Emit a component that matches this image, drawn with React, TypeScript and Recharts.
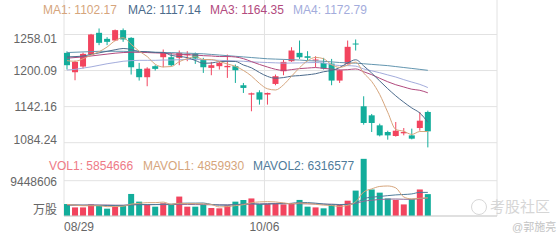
import React from "react";
import { ComposedChart, Bar, Line, XAxis, YAxis, CartesianGrid } from "recharts";

// trading days (index 0 .. 45)
const dates = [
  "08/29", "08/30", "08/31", "09/03", "09/04", "09/05", "09/06", "09/07", "09/10", "09/11",
  "09/12", "09/13", "09/14", "09/17", "09/18", "09/19", "09/20", "09/21", "09/25", "09/26",
  "09/27", "09/28", "10/03", "10/04", "10/05", "10/06", "10/09", "10/10", "10/11", "10/12",
  "10/13", "10/16", "10/17", "10/18", "10/19", "10/20", "10/23", "10/24", "10/25", "10/26",
  "10/27", "10/30", "10/31", "11/01", "11/02", "11/03",
];

const open = [
  1228.5, 1197.4, 1206.5, 1225.8, 1260.7, 1251.0, 1248.4, 1265.0, 1252.6, 1202.8,
  1189.4, 1207.1, 1221.5, 1221.5, 1220.5, 1224.7, 1226.9, 1217.8, 1204.4, 1207.1,
  1205.4, 1207.1, 1176.5, 1161.5, 1165.2, 1161.5, 1178.6, 1199.0, 1215.1, 1228.5,
  1223.1, 1216.2, 1212.4, 1211.3, 1184.0, 1210.8, 1243.5, 1142.7, 1128.2, 1112.1,
  1101.4, 1095.0, 1099.3, 1096.0, 1107.8, 1133.6,
];
const high = [
  1231.0, 1216.0, 1229.0, 1259.0, 1267.7, 1253.7, 1266.0, 1267.7, 1253.7, 1212.4,
  1205.4, 1208.7, 1233.9, 1228.5, 1232.3, 1231.2, 1229.0, 1220.5, 1214.0, 1214.0,
  1225.8, 1209.7, 1180.2, 1164.7, 1168.4, 1164.7, 1193.7, 1217.8, 1237.6, 1248.3,
  1231.2, 1223.1, 1220.5, 1218.8, 1201.7, 1248.3, 1250.0, 1158.8, 1130.4, 1114.8,
  1103.5, 1117.5, 1107.8, 1106.8, 1133.6, 1135.7,
];
const low = [
  1201.7, 1184.5, 1203.3, 1224.7, 1240.9, 1240.9, 1247.3, 1246.2, 1193.7, 1184.0,
  1174.9, 1200.1, 1205.4, 1207.1, 1208.7, 1215.1, 1210.8, 1196.3, 1192.6, 1201.7,
  1188.3, 1180.2, 1164.1, 1134.7, 1145.4, 1145.4, 1176.5, 1192.6, 1214.0, 1218.8,
  1215.1, 1205.4, 1201.7, 1176.5, 1180.2, 1209.7, 1232.3, 1113.2, 1101.4, 1094.4,
  1089.1, 1094.0, 1096.0, 1089.6, 1103.5, 1076.7,
];
const close = [
  1208.7, 1214.0, 1226.9, 1258.0, 1244.6, 1246.2, 1265.0, 1250.0, 1205.4, 1189.4,
  1203.3, 1202.8, 1228.5, 1208.7, 1228.5, 1226.9, 1219.4, 1205.4, 1208.7, 1212.4,
  1207.6, 1200.6, 1172.2, 1163.6, 1153.4, 1164.1, 1191.0, 1214.0, 1232.3, 1221.5,
  1220.5, 1217.8, 1203.3, 1184.0, 1200.6, 1238.2, 1241.9, 1115.9, 1115.9, 1096.0,
  1096.0, 1103.5, 1101.4, 1090.7, 1119.6, 1102.5,
];

// moving averages
const ma1 = [
  1216.0, 1215.0, 1219.0, 1225.0, 1230.4, 1237.9, 1248.1, 1252.8, 1242.2, 1231.2,
  1222.6, 1210.2, 1205.9, 1206.5, 1214.4, 1219.1, 1222.4, 1217.8, 1217.8, 1214.6,
  1210.7, 1206.9, 1200.3, 1191.3, 1179.5, 1170.8, 1168.9, 1177.2, 1191.0, 1204.6,
  1215.9, 1221.2, 1219.1, 1209.4, 1205.2, 1208.8, 1213.6, 1196.1, 1182.5, 1161.6,
  1133.1, 1105.5, 1102.6, 1097.5, 1102.2, 1102.17,
];
const ma2 = [
  1222.0, 1222.5, 1223.5, 1226.0, 1228.5, 1231.0, 1233.5, 1235.5, 1234.0, 1230.8,
  1230.3, 1229.2, 1229.3, 1224.4, 1222.8, 1220.9, 1216.3, 1211.8, 1212.2, 1214.5,
  1214.9, 1214.7, 1209.0, 1204.5, 1197.0, 1190.7, 1187.9, 1188.8, 1191.1, 1192.0,
  1193.3, 1195.0, 1198.2, 1200.2, 1204.9, 1212.3, 1217.4, 1207.6, 1196.0, 1183.4,
  1171.0, 1159.5, 1149.3, 1140.0, 1131.9, 1117.14,
];
const ma3 = [
  1220.0, 1221.0, 1222.0, 1223.5, 1225.0, 1226.5, 1228.0, 1229.0, 1229.5, 1229.5,
  1229.0, 1228.5, 1228.0, 1227.0, 1226.0, 1225.5, 1225.0, 1224.0, 1223.5, 1222.6,
  1222.6, 1221.9, 1219.2, 1214.5, 1209.9, 1205.8, 1202.1, 1200.3, 1201.6, 1203.2,
  1204.1, 1204.9, 1203.6, 1202.4, 1201.0, 1201.5, 1202.7, 1198.2, 1193.5, 1187.7,
  1182.1, 1177.3, 1173.7, 1170.1, 1168.4, 1164.35,
];
const ma4 = [
  1201.0, 1202.0, 1204.0, 1206.0, 1208.5, 1211.0, 1213.0, 1215.0, 1216.0, 1216.5,
  1216.5, 1216.5, 1217.0, 1217.0, 1217.5, 1218.0, 1218.0, 1217.5, 1217.0, 1216.5,
  1216.0, 1215.5, 1215.0, 1214.0, 1213.5, 1213.0, 1212.5, 1212.0, 1212.2, 1212.4,
  1212.8, 1213.0, 1212.2, 1209.7, 1208.2, 1208.0, 1207.2, 1202.7, 1199.7, 1196.6,
  1193.1, 1189.7, 1185.5, 1181.6, 1177.9, 1172.79,
];
const ma5 = [
  1229.0, 1229.5, 1230.0, 1230.5, 1231.0, 1231.0, 1231.0, 1231.0, 1230.5, 1230.0,
  1230.0, 1229.5, 1229.0, 1229.0, 1228.5, 1228.0, 1227.5, 1227.0, 1226.0, 1225.0,
  1224.0, 1223.0, 1222.0, 1221.0, 1220.0, 1219.0, 1218.5, 1218.0, 1217.5, 1217.0,
  1216.0, 1215.5, 1215.0, 1214.0, 1213.0, 1212.5, 1212.0, 1211.0, 1210.0, 1209.0,
  1208.0, 1206.5, 1205.0, 1203.5, 1202.0, 1200.5,
];

// volume, millions of shares
const vol = [
  3.2, 2.3, 2.3, 3.1, 2.85, 1.96, 2.5, 2.68, 5.9, 3.84,
  2.95, 2.5, 3.4, 3.0, 5.2, 2.5, 2.5, 3.0, 2.14, 2.05,
  2.85, 3.84, 4.28, 4.7, 3.2, 3.2, 3.4, 3.1, 3.4, 4.3,
  2.5, 2.3, 2.05, 2.95, 2.95, 4.1, 6.8, 15.3, 7.1, 6.25,
  4.7, 4.3, 3.1, 4.5, 7.1, 5.854666,
];
const mavol1 = [
  3.1, 2.9, 2.75, 2.75, 2.75, 2.502, 2.542, 2.618, 3.178, 3.376,
  3.574, 3.574, 3.718, 3.138, 3.41, 3.32, 3.32, 3.24, 3.068, 2.438,
  2.508, 2.776, 3.032, 3.544, 3.774, 3.844, 3.756, 3.52, 3.26, 3.48,
  3.34, 3.12, 2.91, 2.82, 2.55, 2.87, 3.77, 6.42, 7.25, 7.91,
  8.03, 7.53, 5.09, 4.57, 4.74, 4.85993,
];
const mavol2 = [
  3.0, 2.95, 2.9, 2.9, 2.85, 2.8, 2.8, 2.8, 3.0, 3.063,
  3.038, 3.058, 3.168, 3.158, 3.393, 3.447, 3.447, 3.479, 3.103, 2.924,
  2.914, 3.048, 3.136, 3.306, 3.106, 3.176, 3.266, 3.276, 3.402, 3.627,
  3.592, 3.438, 3.215, 3.04, 3.015, 3.105, 3.445, 4.665, 5.035, 5.23,
  5.45, 5.65, 5.755, 5.91, 6.325, 6.316577,
];
const mavol3 = [
  2.9, 2.9, 2.9, 2.95, 2.95, 2.95, 2.9, 2.9, 3.0, 3.05,
  3.05, 3.05, 3.05, 3.05, 3.1, 3.1, 3.05, 3.05, 3.0, 2.994,
  2.976, 3.053, 3.152, 3.232, 3.25, 3.312, 3.357, 3.378, 3.253, 3.276,
  3.253, 3.243, 3.176, 3.173, 3.061, 3.141, 3.356, 3.971, 4.219, 4.429,
  4.521, 4.544, 4.485, 4.475, 4.67, 4.79,
];

const priceTicks = [1084.24, 1142.16, 1200.09, 1258.01];
const volTicks = [0, 9.448606];
const dateTickIdx = [0, 25, 50, 54];

const RED = "#f2445e";
const GREEN = "#12ad9b";
const C_MA1 = "#d6a57c";
const C_MA2 = "#4c6b8c";
const C_MA3 = "#b24a7e";
const C_MA4 = "#a3acdc";
const C_MA5 = "#6396b0";
const C_MAV2 = "#4f7b9a";
const C_MAV3 = "#8e6a96";
const GRID = "#e2e2e2";
const FONT = '"Liberation Sans", Arial, "Noto Sans CJK SC", sans-serif';

const SHIFT = 0.375; // body sits at the left of its slot
const SLOTS = 54;
const xDomain = [-SHIFT, SLOTS - SHIFT];
const xTicks = dateTickIdx.map((i) => i - SHIFT);

const rows = dates.map((date, i) => ({
  idx: i,
  date,
  open: open[i],
  high: high[i],
  low: low[i],
  close: close[i],
  range: [low[i], high[i]],
  ma1: ma1[i],
  ma2: ma2[i],
  ma3: ma3[i],
  ma4: ma4[i],
  ma5: ma5[i],
  vol: vol[i],
  mavol1: mavol1[i],
  mavol2: mavol2[i],
  mavol3: mavol3[i],
}));

const Candle = (p: any) => {
  const { x, y, width, height, payload } = p;
  if (!payload) return null;
  const cx = x + width / 2;
  const top = Math.min(y, y + height);
  const h = Math.abs(height);
  const span = payload.high - payload.low;
  const k = span > 0 ? h / span : 0;
  const yo = top + (payload.high - payload.open) * k;
  const yc = top + (payload.high - payload.close) * k;
  const c = payload.close >= payload.open ? RED : GREEN;
  return (
    <g>
      <line x1={cx} x2={cx} y1={top} y2={top + h} stroke={c} strokeWidth={1} />
      <rect x={cx - 3} y={Math.min(yo, yc)} width={6} height={Math.max(Math.abs(yo - yc), 1)} fill={c} />
    </g>
  );
};

const VolBar = (p: any) => {
  const { x, y, width, height, payload } = p;
  if (!payload) return null;
  const cx = x + width / 2;
  const c = payload.close >= payload.open ? RED : GREEN;
  return <rect x={cx - 3} y={Math.min(y, y + height)} width={6} height={Math.abs(height)} fill={c} />;
};

const PriceTick = (p: any) => {
  const { x, y, payload, side } = p;
  const v = payload.value;
  const dy = v === priceTicks[priceTicks.length - 1] ? 4.5 : v === priceTicks[0] ? -2.5 : 0;
  return (
    <text
      x={side === "left" ? x + 1 : x - 3}
      y={y + dy}
      dy="0.355em"
      textAnchor={side === "left" ? "end" : "start"}
      fill="#666"
      fontSize={12}
      fontFamily={FONT}
    >
      {v.toFixed(2)}
    </text>
  );
};

const VolTick = (p: any) => {
  const { x, y, payload, side } = p;
  const v = payload.value;
  const label = v === 0 ? "万股" : String(Math.round(v * 1e6));
  return (
    <text
      x={side === "left" ? x + 1 : x - 3}
      y={y + (v === 0 ? -6 : 1)}
      dy="0.355em"
      textAnchor={side === "left" ? "end" : "start"}
      fill="#666"
      fontSize={12}
      fontFamily={FONT}
    >
      {label}
    </text>
  );
};

const DateTick = (p: any) => {
  const { x, y, payload } = p;
  const i = Math.round(payload.value + SHIFT);
  const label = dates[i] ?? "";
  return (
    <text x={x} y={y} dy="0.71em" textAnchor={i === 0 ? "start" : "middle"} fill="#666" fontSize={12} fontFamily={FONT}>
      {label}
    </text>
  );
};

const last = (a: number[]) => a[a.length - 1];

const legendTop = [
  { label: "MA1", value: last(ma1).toFixed(2), color: C_MA1, left: 43 },
  { label: "MA2", value: last(ma2).toFixed(2), color: C_MA2, left: 128 },
  { label: "MA3", value: last(ma3).toFixed(2), color: C_MA3, left: 210 },
  { label: "MA4", value: last(ma4).toFixed(2), color: C_MA4, left: 293 },
];
const legendVol = [
  { label: "VOL1", value: String(Math.round(last(vol) * 1e6)), color: "#ee7a86", left: 49 },
  { label: "MAVOL1", value: String(Math.round(last(mavol1) * 1e6)), color: C_MA1, left: 143 },
  { label: "MAVOL2", value: String(Math.round(last(mavol2) * 1e6)), color: C_MAV2, left: 253 },
];

const lineProps = { type: "monotone" as const, dot: false, activeDot: false, strokeWidth: 1, isAnimationActive: false };

export default function App() {
  return (
    <div style={{ position: "fixed", left: 0, top: 0, width: 560, height: 240, background: "#fff", fontFamily: FONT }}>
      <div style={{ position: "absolute", left: 0, top: 0 }}>
        <ComposedChart width={560} height={152} data={rows} margin={{ top: 0, right: 0, bottom: 0, left: 0 }}>
          <CartesianGrid stroke={GRID} syncWithTicks />
          <XAxis dataKey="idx" type="number" domain={xDomain} ticks={xTicks} hide />
          <YAxis
            width={64}
            domain={[1069.3, 1313.4]}
            ticks={priceTicks}
            axisLine={false}
            tickLine={false}
            tick={<PriceTick side="left" />}
          />
          <YAxis
            yAxisId="r"
            orientation="right"
            width={63}
            domain={[1069.3, 1313.4]}
            ticks={priceTicks}
            axisLine={false}
            tickLine={false}
            tick={<PriceTick side="right" />}
          />
          <Bar dataKey="range" shape={Candle} barSize={6} isAnimationActive={false} />
          <Line dataKey="ma5" stroke={C_MA5} {...lineProps} />
          <Line dataKey="ma4" stroke={C_MA4} {...lineProps} />
          <Line dataKey="ma3" stroke={C_MA3} {...lineProps} />
          <Line dataKey="ma2" stroke={C_MA2} {...lineProps} />
          <Line dataKey="ma1" stroke={C_MA1} {...lineProps} />
        </ComposedChart>
      </div>
      <div style={{ position: "absolute", left: 0, top: 152 }}>
        <ComposedChart width={560} height={88} data={rows} margin={{ top: 0, right: 0, bottom: 0, left: 0 }}>
          <CartesianGrid stroke={GRID} syncWithTicks />
          <XAxis
            dataKey="idx"
            type="number"
            domain={xDomain}
            ticks={xTicks}
            height={24}
            tickLine={false}
            tickMargin={0}
            axisLine={{ stroke: "#cfcfcf" }}
            tick={<DateTick />}
          />
          <YAxis width={64} domain={[0, 17.13]} ticks={volTicks} axisLine={false} tickLine={false} tick={<VolTick side="left" />} />
          <YAxis
            yAxisId="r"
            orientation="right"
            width={63}
            domain={[0, 17.13]}
            ticks={volTicks}
            axisLine={false}
            tickLine={false}
            tick={<VolTick side="right" />}
          />
          <Bar dataKey="vol" shape={VolBar} barSize={6} isAnimationActive={false} />
          <Line dataKey="mavol3" stroke={C_MAV3} {...lineProps} />
          <Line dataKey="mavol2" stroke={C_MAV2} {...lineProps} />
          <Line dataKey="mavol1" stroke={C_MA1} {...lineProps} />
        </ComposedChart>
      </div>
      {legendTop.map((l) => (
        <div key={l.label} style={{ position: "absolute", left: l.left, top: 3, fontSize: 12, lineHeight: "14px", color: l.color, whiteSpace: "nowrap" }}>
          {l.label}: {l.value}
        </div>
      ))}
      {legendVol.map((l) => (
        <div key={l.label} style={{ position: "absolute", left: l.left, top: 159, fontSize: 12, lineHeight: "14px", color: l.color, whiteSpace: "nowrap" }}>
          {l.label}: {l.value}
        </div>
      ))}
      <div style={{ position: "absolute", left: 471, top: 199, width: 14, height: 14, borderRadius: 8, border: "1px solid #d8d8d8" }} />
      <div style={{ position: "absolute", left: 490, top: 198, fontSize: 15, lineHeight: "17px", color: "#d6d6d6", whiteSpace: "nowrap" }}>考股社区</div>
      <div style={{ position: "absolute", left: 512, top: 221, fontSize: 11, lineHeight: "13px", color: "#c4c4c4", whiteSpace: "nowrap" }}>@郭施亮</div>
    </div>
  );
}
